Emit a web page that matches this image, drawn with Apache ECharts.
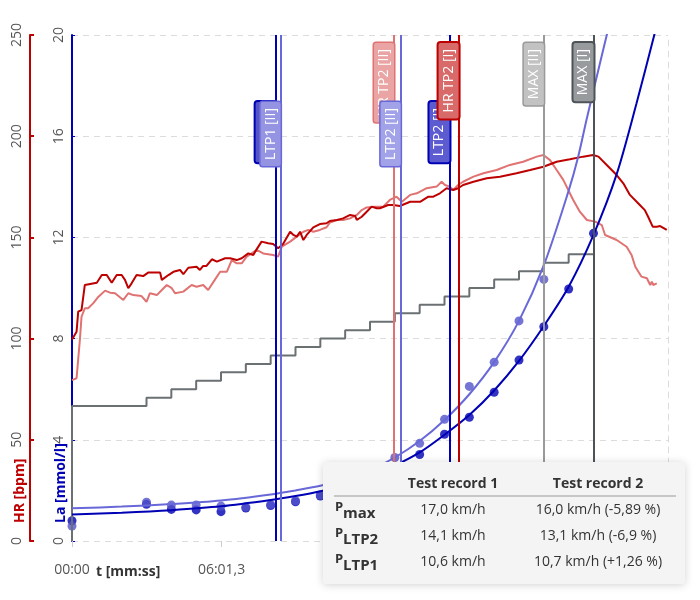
<!DOCTYPE html>
<html>
<head>
<meta charset="utf-8">
<script src="https://cdn.jsdelivr.net/npm/echarts@6/dist/echarts.min.js"></script>
<style>html,body{margin:0;padding:0;background:#fff}#c{width:700px;height:600px}</style>
</head>
<body>
<div id="c"></div>
<script>
// ---------------- data ----------------
const xMin = 0, xMax = 1440, xInterval = 361.3;            // time axis (s)
const laMin = 0, laMax = 20, laInterval = 4;               // lactate axis
const hrMin = 0, hrMax = 250, hrInterval = 50;             // HR axis
const speedMax = 30;                                       // hidden speed axis (km/h)

const speedTimes  = [0, 0, 180, 240, 300, 360, 420, 480, 540, 600, 660, 720, 780, 840, 900, 960, 1020, 1080, 1140, 1200, 1260];
const speedValues = [0, 8, 8.5, 9, 9.5, 10, 10.5, 11, 11.5, 12, 12.5, 13, 13.5, 14, 14.5, 15, 15.5, 16, 16.5, 17, 17];

const laTimes = [0, 180, 240, 300, 360, 420, 480, 540, 600, 660, 720, 780, 840, 900, 960, 1020, 1080, 1140, 1200, 1260];
const la1 = [0.80, 1.45, 1.25, 1.23, 1.16, 1.30, 1.40, 1.55, 1.78, 2.2, 2.55, 2.95, 3.42, 4.22, 4.89, 5.88, 7.15, 8.47, 9.96, 12.16];
const la2 = [0.59, 1.53, 1.42, 1.42, 1.38, 1.35, 1.45, 1.59, 1.82, 2.4, 2.85, 3.3, 3.86, 4.81, 6.11, 7.07, 8.70, 10.34];

const fitTimes1 = [0, 120, 240, 360, 480, 540, 600, 660, 720, 780, 840, 900, 960, 1020, 1080, 1140, 1200, 1260, 1316, 1364, 1410];
const fit1      = [1.05, 1.12, 1.22, 1.37, 1.62, 1.78, 1.97, 2.22, 2.56, 2.98, 3.5, 4.2, 4.98, 5.95, 7.12, 8.5, 10.05, 12.1, 14.5, 17.3, 20.2];
const fitTimes2 = [0, 120, 240, 360, 480, 540, 600, 660, 720, 780, 840, 900, 960, 1020, 1080, 1140, 1200, 1223, 1243, 1270, 1295];
const fit2      = [1.29, 1.36, 1.46, 1.6, 1.84, 2.0, 2.18, 2.45, 2.8, 3.3, 3.95, 4.78, 5.8, 7.07, 8.7, 10.9, 13.85, 15.19, 16.64, 18.5, 20.2];

const hr1 = [[0,99.6],[11,103.4],[15,113.3],[23,114.1],[31,126.5],[60,127.6],[72,131.4],[84,131.4],[96,127.6],[108,131.4],[120,131.4],[128,129],[136,124.9],[144,127.3],[156,131.4],[172,130.9],[184,132.6],[213,132.6],[217,129],[233,131.4],[245,133],[261,133.9],[269,131.8],[281,135],[301,135.5],[309,133.9],[317,135.9],[325,135.9],[338,139.2],[350,138],[370,139.7],[382,139.7],[398,138.8],[410,139.7],[426,142.1],[438,141.3],[446,144.1],[458,147.9],[474,147.1],[486,146.7],[498,144.6],[510,146.7],[527,152.8],[535,151.2],[543,150.4],[551,152.8],[559,148.7],[567,151.2],[583,155],[599,156.6],[615,157],[623,158.1],[640,158.6],[655,159.4],[672,161.1],[684,160.6],[688,158.6],[700,160.2],[712,162.7],[724,165.2],[736,164.4],[744,164.4],[764,166],[776,166],[792,165.5],[817,167.6],[841,167.6],[861,170.1],[873,170.1],[889,171.8],[905,174.3],[921,173.4],[933,174.3],[945,175.9],[970,177.5],[1002,179.2],[1034,180],[1074,181.7],[1107,183.3],[1139,184.9],[1171,187.4],[1203,188.6],[1235,189.9],[1259,190.7],[1272,189.9],[1292,185.8],[1316,180.8],[1332,176.7],[1348,171],[1372,166],[1384,163.5],[1392,160.2],[1403,155.3],[1413,155.3],[1421,155.6],[1437,153.7]];

const hr2 = [[0,79.5],[11,80.4],[19,99.3],[23,110.8],[31,115],[39,115],[51,117.4],[64,120.7],[80,123.7],[92,122.7],[104,122.4],[124,119.1],[136,122.4],[148,121.5],[168,121],[180,118.2],[188,122.4],[205,121.5],[217,124],[229,126.5],[241,124.9],[249,122.4],[269,123.2],[289,126.5],[301,125.6],[317,126.5],[329,124],[345,129],[358,133],[374,133],[386,138.8],[398,137.2],[410,137.2],[422,140.5],[434,142.1],[446,143.8],[462,142.1],[486,141.3],[498,140.5],[507,145.4],[527,147.9],[543,150.4],[559,152.8],[571,153.7],[583,152.8],[599,153.7],[615,155],[623,157.3],[640,158.6],[655,158.6],[672,159.4],[688,161.1],[700,163.5],[712,164.8],[732,165.2],[752,165.2],[768,168.5],[784,170.1],[797,167.6],[817,171],[833,171.8],[857,174.3],[881,175.1],[893,177.5],[901,175.9],[913,175.1],[921,173.4],[933,175.9],[945,177.5],[970,180],[994,181.7],[1026,183.3],[1058,185.8],[1090,187.4],[1123,189.9],[1139,190.7],[1155,188.2],[1171,183.3],[1187,178.4],[1211,168.5],[1227,162.7],[1244,158.6],[1264,157.8],[1280,156.1],[1288,151.2],[1316,148.7],[1340,145.4],[1352,141.3],[1361,135.5],[1376,130.6],[1389,129.8],[1397,126.5],[1401,128.1],[1404,126.5],[1413,127.3]];

const markerNames = ['LTP1 [I]', 'LTP1 [II]', 'HR TP2 [II]', 'LTP2 [II]', 'LTP2 [I]', 'HR TP2 [I]', 'MAX [II]', 'MAX [I]'];
const markerTimes = [492, 504, 778, 794, 912, 934, 1140, 1260];

const tableHeader = ['Test record 1', 'Test record 2'];
const tableRowSubs = ['max', 'LTP2', 'LTP1'];
const tableCol1 = ['17,0 km/h', '14,1 km/h', '10,6 km/h'];
const tableCol2 = ['16,0 km/h (-5,89 %)', '13,1 km/h (-6,9 %)', '10,7 km/h (+1,26 %)'];

// ---------------- styles ----------------
const FONT = 'Open Sans';
const C = {
  blue1: '#0000b4', blue2: '#6868d8',
  red1: '#bd0000', red2: '#e07272',
  gray1: '#4d5357', gray2: '#9a9a9a',
  step: '#6b7073'
};
const markerStyle = {
  'LTP1 [I]':    {color: C.blue1, fill: '#5454c8', bw: 2,   top: 67},
  'LTP1 [II]':   {color: C.blue2, fill: '#9494e2', bw: 1.5, top: 67},
  'HR TP2 [II]': {color: C.red2,  fill: '#eaa4a4', bw: 1.5, top: 8},
  'LTP2 [II]':   {color: C.blue2, fill: '#a2a2e8', bw: 1.5, top: 67},
  'LTP2 [I]':    {color: C.blue1, fill: '#5c5cd0', bw: 2,   top: 67},
  'HR TP2 [I]':  {color: C.red1,  fill: '#d86a6a', bw: 2,   top: 8},
  'MAX [II]':    {color: C.gray2, fill: '#c2c2c2', bw: 1.5, top: 8},
  'MAX [I]':     {color: C.gray1, fill: '#989b9d', bw: 2,   top: 8}
};

function fmtTime(v) {
  const m = Math.floor(v / 60 + 1e-9);
  const s = v - m * 60;
  let ss;
  if (Math.abs(s - Math.round(s)) < 0.05) ss = String(Math.round(s)).padStart(2, '0');
  else ss = s.toFixed(1).padStart(4, '0').replace('.', ',');
  return String(m).padStart(2, '0') + ':' + ss;
}
const zip = (a, b) => a.map((t, i) => [t, b[i]]).filter(p => p[1] !== undefined);

const series = [];
markerNames.forEach((name, i) => {
  const st = markerStyle[name];
  series.push({
    type: 'line', name: name, data: [], yAxisIndex: 0, silent: true,
    markLine: {
      silent: true, symbol: 'none', animation: false,
      emphasis: {disabled: true},
      lineStyle: {color: st.color, width: 2, type: 'solid'},
      label: {
        show: true, position: 'insideEndTop', distance: [st.top, 0],
        formatter: name, color: '#fff', fontSize: 14, fontFamily: FONT,
        backgroundColor: st.fill, borderColor: st.color, borderWidth: st.bw,
        borderRadius: 2, padding: [3, 6]
      },
      data: [{xAxis: markerTimes[i]}]
    }
  });
});

series.push({
  type: 'line', name: 'speed', yAxisIndex: 2, step: 'end', symbol: 'none',
  data: zip(speedTimes, speedValues),
  lineStyle: {color: C.step, width: 2}, silent: true
});
series.push({
  type: 'line', name: 'HR 2', yAxisIndex: 1, symbol: 'none', data: hr2,
  lineStyle: {color: C.red2, width: 2}, silent: true
});
series.push({
  type: 'line', name: 'HR 1', yAxisIndex: 1, symbol: 'none', data: hr1,
  lineStyle: {color: C.red1, width: 2}, silent: true
});
series.push({
  type: 'line', name: 'fit 1', yAxisIndex: 0, symbol: 'none', smooth: 0.3,
  data: zip(fitTimes1, fit1), lineStyle: {color: C.blue1, width: 2}, silent: true
});
series.push({
  type: 'line', name: 'fit 2', yAxisIndex: 0, symbol: 'none', smooth: 0.3,
  data: zip(fitTimes2, fit2), lineStyle: {color: C.blue2, width: 2}, silent: true
});
series.push({
  type: 'scatter', name: 'La 1', yAxisIndex: 0, symbolSize: 9,
  data: zip(laTimes, la1), itemStyle: {color: C.blue1}, silent: true
});
series.push({
  type: 'scatter', name: 'La 2', yAxisIndex: 0, symbolSize: 9,
  data: zip(laTimes, la2), itemStyle: {color: '#5252cc'}, silent: true
});

// table graphic
const TX = 323, TY = 462, TW = 362, TH = 122;
const col1X = 453, col2X = 598;
const rowY = [510, 536, 562];
const graphics = [
  {type: 'text', x: 20, y: 523, rotation: Math.PI / 2, z: 50,
   style: {text: 'HR [bpm]', fill: C.red1, font: 'bold 14px "Open Sans"', textAlign: 'left', align: 'left', textVerticalAlign: 'middle', verticalAlign: 'middle'}},
  {type: 'text', x: 61, y: 523, rotation: Math.PI / 2, z: 50,
   style: {text: 'La [mmol/l]', fill: C.blue1, font: 'bold 14px "Open Sans"', textAlign: 'left', align: 'left', textVerticalAlign: 'middle', verticalAlign: 'middle'}},
  {type: 'text', x: 96, y: 572, z: 50,
   style: {text: 't [mm:ss]', fill: '#333', font: 'bold 14px "Open Sans"', textAlign: 'left', align: 'left', textVerticalAlign: 'middle', verticalAlign: 'middle'}},
  {type: 'rect', z: 100, shape: {x: TX, y: TY, width: TW, height: TH, r: 3},
   style: {fill: '#f4f4f4', shadowBlur: 8, shadowColor: 'rgba(0,0,0,0.18)', shadowOffsetY: 1}},
  {type: 'line', z: 101, shape: {x1: 334, y1: 496, x2: 676, y2: 496}, style: {stroke: '#9a9a9a', lineWidth: 1}},
  {type: 'text', x: col1X, y: 484, z: 101,
   style: {text: tableHeader[0], fill: '#333', font: 'bold 14px "Open Sans"', textAlign: 'center', align: 'center', textVerticalAlign: 'middle', verticalAlign: 'middle'}},
  {type: 'text', x: col2X, y: 484, z: 101,
   style: {text: tableHeader[1], fill: '#333', font: 'bold 14px "Open Sans"', textAlign: 'center', align: 'center', textVerticalAlign: 'middle', verticalAlign: 'middle'}}
];
tableRowSubs.forEach((sub, i) => {
  graphics.push({type: 'text', x: 335, y: rowY[i] - 3, z: 101,
    style: {text: 'P', fill: '#333', font: 'bold 13px "Open Sans"', textAlign: 'left', align: 'left', textVerticalAlign: 'middle', verticalAlign: 'middle'}});
  graphics.push({type: 'text', x: 343, y: rowY[i] + 4, z: 101,
    style: {text: sub, fill: '#333', font: 'bold 15px "Open Sans"', textAlign: 'left', align: 'left', textVerticalAlign: 'middle', verticalAlign: 'middle'}});
  graphics.push({type: 'text', x: col1X, y: rowY[i], z: 101,
    style: {text: tableCol1[i], fill: '#333', font: '14px "Open Sans"', textAlign: 'center', align: 'center', textVerticalAlign: 'middle', verticalAlign: 'middle'}});
  graphics.push({type: 'text', x: col2X, y: rowY[i], z: 101,
    style: {text: tableCol2[i], fill: '#333', font: '14px "Open Sans"', textAlign: 'center', align: 'center', textVerticalAlign: 'middle', verticalAlign: 'middle'}});
});

const chart = echarts.init(document.getElementById('c'), null, {renderer: 'canvas'});
chart.setOption({
  animation: false,
  backgroundColor: '#fff',
  textStyle: {fontFamily: FONT},
  grid: {left: 72, right: 32, top: 35, bottom: 59, containLabel: false},
  xAxis: {
    type: 'value', min: xMin, max: xMax, interval: xInterval,
    axisLine: {show: false},
    axisTick: {show: true, length: 6, lineStyle: {color: '#ccc'}},
    splitLine: {show: false},
    axisLabel: {formatter: fmtTime, color: '#555', fontSize: 14, margin: 22, fontFamily: FONT, showMaxLabel: false}
  },
  yAxis: [
    {
      type: 'value', position: 'left', min: laMin, max: laMax, interval: laInterval,
      axisLine: {show: true, lineStyle: {color: C.blue1, width: 2}},
      axisTick: {show: true, inside: true, length: 3, lineStyle: {color: C.blue1, width: 1}},
      axisLabel: {rotate: 90, color: '#555', fontSize: 14, margin: 6, fontFamily: FONT},
      splitLine: {show: true, lineStyle: {color: '#dcdcdc', type: [6, 5], width: 1}}
    },
    {
      type: 'value', position: 'left', offset: 42, min: hrMin, max: hrMax, interval: hrInterval,
      axisLine: {show: true, lineStyle: {color: C.red1, width: 2}},
      axisTick: {show: true, inside: true, length: 4, lineStyle: {color: C.red1, width: 2}},
      axisLabel: {rotate: 90, color: '#555', fontSize: 14, margin: 6, fontFamily: FONT},
      splitLine: {show: false}
    },
    {
      type: 'value', position: 'right', min: 0, max: speedMax,
      axisLine: {show: true, lineStyle: {color: '#dcdcdc', type: [6, 5], width: 1}},
      axisTick: {show: false}, axisLabel: {show: false}, splitLine: {show: false}
    }
  ],
  series: series,
  graphic: graphics
});
</script>
</body>
</html>
